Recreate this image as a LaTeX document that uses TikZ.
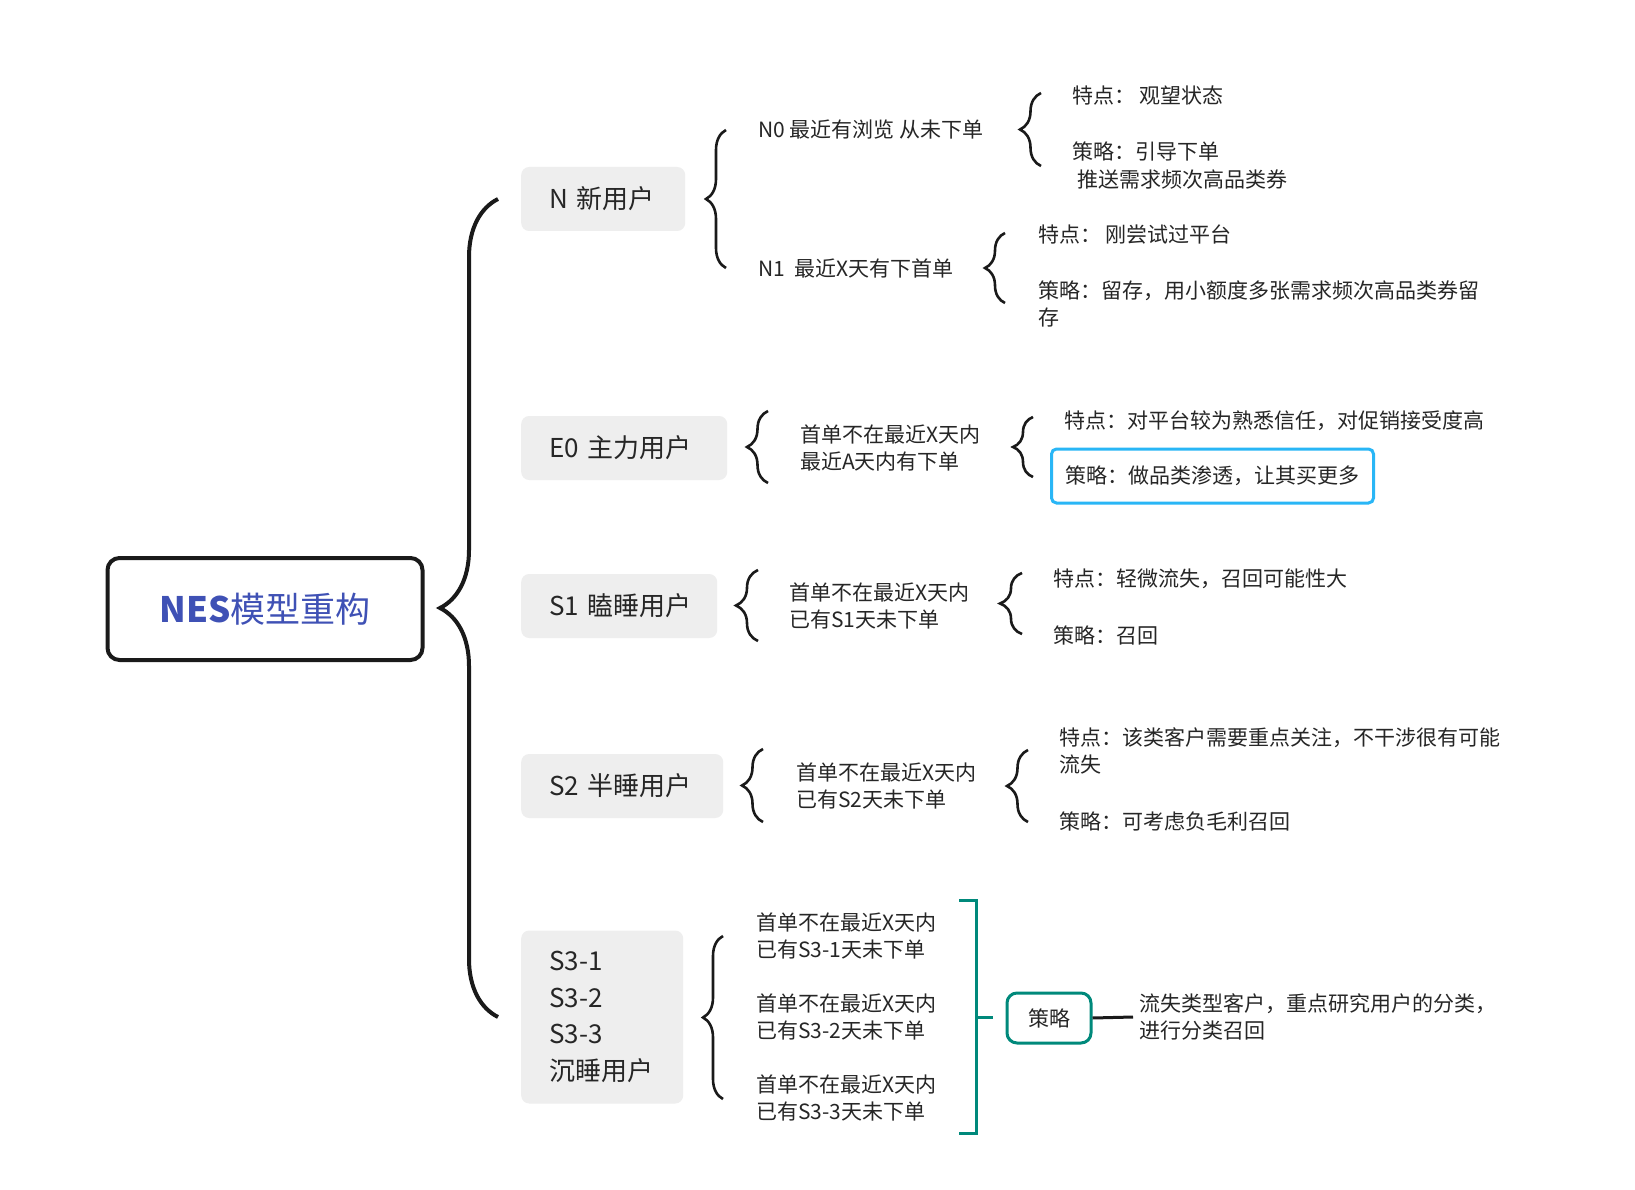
\documentclass[tikz,border=0pt]{standalone}
\usepackage{fontspec}
\setmainfont{Noto Sans CJK SC}
\usetikzlibrary{decorations.pathreplacing,positioning}
\definecolor{TxtClr}{RGB}{38,38,38}
\definecolor{RootClr}{RGB}{63,81,181}
\definecolor{CatFill}{RGB}{238,238,238}
\definecolor{LineClr}{RGB}{26,26,26}
\definecolor{SkyClr}{RGB}{41,182,246}
\definecolor{TealClr}{RGB}{0,137,123}

\begin{document}
\begin{tikzpicture}[x=1pt,y=-1pt,
  every node/.style={text=TxtClr,inner sep=0pt,font=\fontsize{21}{27}\selectfont},
  leaf/.style={anchor=west,align=left},
  catbox/.style={anchor=west,align=left,fill=CatFill,rounded corners=8pt,inner xsep=28pt,
    minimum height=64pt,text width=#1,font=\fontsize{26}{36.5}\selectfont},
  curly/.style={decorate,decoration={brace,amplitude=#1},line width=2.6pt,draw=LineClr},
  curly/.default=20pt]
\useasboundingbox[fill=white] (0,0) rectangle (1635,1190);

% root
\node[draw=LineClr,line width=4pt,rounded corners=12pt,minimum width=315pt,minimum height=102pt,
  text=RootClr,font=\fontsize{35}{40}\selectfont] (root) at (265,609) {\textbf{NES}模型重构};

% categories
\node[catbox=108pt] (catN) at (521,199) {\mbox{N 新用户}};
\node[catbox=150pt] (catE) at (521,448) {\mbox{E0 主力用户}};
\node[catbox=140pt] (catSa) at (521,606) {\mbox{S1 瞌睡用户}};
\node[catbox=146pt] (catSb) at (521,786) {\mbox{S2 半睡用户}};
\node[catbox=106pt,minimum height=173pt] (catSc) at (521,1017) {S3-1\\S3-2\\S3-3\\沉睡用户};

\draw[curly=58pt,line width=4pt] ([xshift=-23pt]catSc.west) -- ([xshift=-23pt]catN.west);

% N
\node[leaf] (nzero) at (758,130) {N0 最近有浏览 从未下单};
\node[leaf] (none) at (758,268) {N1\ \ 最近X天有下首单};
\draw[curly] ([xshift=-32pt]none.west) -- ([xshift=-32pt]nzero.west);

\node[leaf] (nzerof) at (1072,95) {特点：\ 观望状态};
\node[leaf,font=\fontsize{21}{28}\selectfont] (nzeros) at (1072,166) {策略：引导下单\\\hspace{5pt}推送需求频次高品类券};
\coordinate (bzt) at (1041,93);
\coordinate (bzb) at (1041,166);
\draw[curly=21pt] (bzb) -- (bzt);

\node[leaf] (nonef) at (1038,234) {特点：\ 刚尝试过平台};
\node[leaf] (nones) at (1038,303.5) {策略：留存，用小额度多张需求频次高品类券留\\存};
\coordinate (bot) at (1005,233);
\coordinate (bob) at (1005,303);
\draw[curly] (bob) -- (bot);

% E0
\node[leaf] (etxt) at (800,448) {首单不在最近X天内\\最近A天内有下单};
\coordinate (bet) at (768,411);
\coordinate (beb) at (768,483);
\draw[curly=21pt] (beb) -- (bet);

\node[leaf] (ef) at (1064,421) {特点：对平台较为熟悉信任，对促销接受度高};
\node[leaf,draw=SkyClr,line width=3pt,rounded corners=5pt,inner xsep=14pt,minimum height=54pt]
  (es) at (1050,476) {策略：做品类渗透，让其买更多};
\coordinate (bft) at (1033,417);
\coordinate (bfb) at (1033,477);
\draw[curly] (bfb) -- (bft);

% S1
\node[leaf] (satxt) at (789,606) {首单不在最近X天内\\已有S1天未下单};
\coordinate (bst) at (758,570);
\coordinate (bsb) at (758,641);
\draw[curly=22pt] (bsb) -- (bst);

\node[leaf] (saf) at (1053,579) {特点：轻微流失，召回可能性大};
\node[leaf] (sas) at (1053,635) {策略：召回};
\coordinate (bsft) at (1022,573);
\coordinate (bsfb) at (1022,634);
\draw[curly=22pt] (bsfb) -- (bsft);

% S2
\node[leaf] (sbtxt) at (796,786) {首单不在最近X天内\\已有S2天未下单};
\coordinate (btt) at (763,749);
\coordinate (btb) at (763,822);
\draw[curly=21pt] (btb) -- (btt);

\node[leaf] (sbf) at (1059,750.5) {特点：该类客户需要重点关注，不干涉很有可能\\流失};
\node[leaf] (sbs) at (1059,821) {策略：可考虑负毛利召回};
\coordinate (btft) at (1028,750);
\coordinate (btfb) at (1028,822);
\draw[curly=21pt] (btfb) -- (btft);

% S3
\node[leaf] (scone) at (756,936) {首单不在最近X天内\\已有S3-1天未下单};
\node[leaf] (sctwo) at (756,1017) {首单不在最近X天内\\已有S3-2天未下单};
\node[leaf] (scthree) at (756,1098) {首单不在最近X天内\\已有S3-3天未下单};
\coordinate (but) at (723,936);
\coordinate (bub) at (723,1099);
\draw[curly] (bub) -- (but);

\coordinate (sqa) at (959,900);
\coordinate (sqb) at (976,900);
\coordinate (sqc) at (976,1133);
\coordinate (sqd) at (959,1133);
\coordinate (sqm) at (976,1017);
\coordinate (sqt) at (993,1017);
\draw[TealClr,line width=3pt] (sqa) -- (sqb) -- (sqc) -- (sqd);
\draw[TealClr,line width=3pt] (sqm) -- (sqt);

\node[draw=TealClr,fill=white,line width=3pt,rounded corners=10pt,minimum width=84pt,minimum height=50pt]
  (celue) at (1049,1018) {策略};
\coordinate (celueend) at (1133,1017);
\draw[LineClr,line width=3pt] (celue.east) -- (celueend);
\node[leaf] (sctail) at (1139,1017) {流失类型客户，重点研究用户的分类，\\进行分类召回};

\end{tikzpicture}
\end{document}
